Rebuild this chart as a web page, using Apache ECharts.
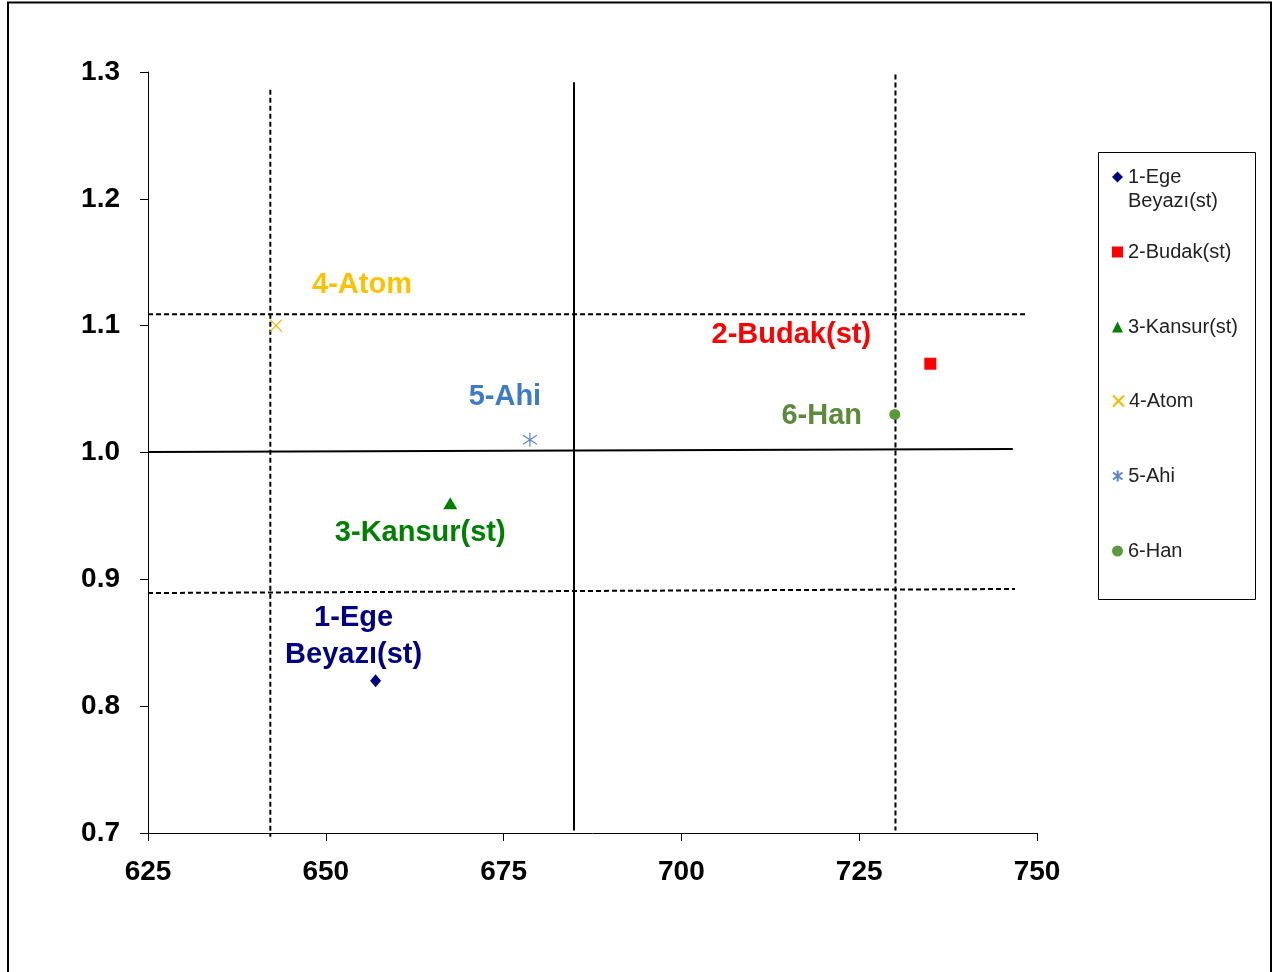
<!DOCTYPE html>
<html>
<head>
<meta charset="utf-8">
<script src="https://cdn.jsdelivr.net/npm/echarts@6/dist/echarts.min.js"></script>
<style>html,body{margin:0;padding:0;background:#fff;}#c{width:1280px;height:972px;}</style>
</head>
<body>
<div id="c"></div>
<script>
// ---- data ----
const seriesNames = ['1-Ege Beyazı(st)', '2-Budak(st)', '3-Kansur(st)', '4-Atom', '5-Ahi', '6-Han'];
const xValues = [657, 735, 667.5, 643, 678.7, 730];
const yValues = [0.82, 1.07, 0.96, 1.10, 1.01, 1.03];
const xTicks = [625, 650, 675, 700, 725, 750];
const yTicks = [0.7, 0.8, 0.9, 1.0, 1.1, 1.2, 1.3];
// reference lines: [x0, y0, x1, y1]
const refDashedV = [[642.2, 1.286, 642.2, 0.697], [730.1, 1.298, 730.1, 0.702]];
const refSolidV = [[684.9, 1.292, 684.9, 0.702]];
const refDashedH = [[625, 1.109, 748.6, 1.109], [625, 0.8892, 746.9, 0.8924]];
const refSolidH = [[625, 1.0004, 746.6, 1.0028]];

// ---- styles ----
const FONT = '"Liberation Sans", Arial, sans-serif';
const markerColors = ['#000080', '#ff0000', '#008000', '#f5b800', '#5b84cc', '#5a9a3a'];
const labelColors = ['#000080', '#ff0000', '#008000', '#ffc000', '#3d7cc4', '#5a8a3a'];
const symbols = [
  'diamond', 'rect', 'triangle',
  'path://M0,0L10,10M10,0L0,10',
  'path://M5,0L5,10M0.7,1.8L9.3,8.2M9.3,1.8L0.7,8.2',
  'circle'
];
const symbolSizes = [[11, 13], 12, [14, 12], 12, 14, 11];
const labelOffsets = [[-22, -44], [-139, -29], [-30, 30], [86, -41], [-25, -43], [-73, 2]];
const labelTexts = ['1-Ege\nBeyazı(st)', '2-Budak(st)', '3-Kansur(st)', '4-Atom', '5-Ahi', '6-Han'];
const legendMarkerY = [177, 252, 327, 401, 476, 551];

const scatterSeries = seriesNames.map((name, i) => {
  const isStroke = i === 3 || i === 4;
  return {
    name: name,
    type: 'scatter',
    data: [[xValues[i], yValues[i]]],
    symbol: symbols[i],
    symbolSize: symbolSizes[i],
    symbolKeepAspect: false,
    z: 5,
    itemStyle: isStroke
      ? { color: markerColors[i], borderColor: markerColors[i], borderWidth: 1.2, opacity: 1 }
      : { color: markerColors[i], borderWidth: 0, opacity: 1 },
    label: {
      show: true,
      position: 'inside',
      offset: labelOffsets[i],
      formatter: () => labelTexts[i],
      color: labelColors[i],
      opacity: 1,
      fontFamily: FONT,
      fontWeight: 'bold',
      fontSize: 29,
      lineHeight: 37,
      align: 'center',
      verticalAlign: 'middle'
    }
  };
});

function refSeries(list, dashed) {
  return list.map(l => ({
    type: 'line',
    data: [[l[0], l[1]], [l[2], l[3]]],
    showSymbol: false,
    symbol: 'none',
    clip: false,
    silent: true,
    z: 3,
    lineStyle: { color: '#000', width: 2, type: dashed ? [5, 3] : 'solid' }
  }));
}

const legends = seriesNames.map((name, i) => {
  const first = i === 0;
  return {
    data: [name],
    orient: 'vertical',
    left: 1112,
    top: first ? legendMarkerY[i] - 36 : legendMarkerY[i] - 10,
    padding: 0,
    itemWidth: 11,
    itemHeight: 11,
    itemGap: 0,
    selectedMode: false,
    formatter: first ? () => '\n1-Ege\nBeyazı(st)' : undefined,
    textStyle: first
      ? { fontFamily: FONT, fontSize: 20, color: '#222', lineHeight: 24 }
      : { fontFamily: FONT, fontSize: 20, color: '#222', lineHeight: 20 }
  };
});

const chart = echarts.init(document.getElementById('c'), null, { renderer: 'canvas' });
chart.setOption({
  backgroundColor: '#fff',
  animation: false,
  grid: { left: 148, right: 243, top: 72, bottom: 139, containLabel: false },
  xAxis: {
    type: 'value',
    min: xTicks[0], max: xTicks[xTicks.length - 1], interval: 25,
    axisLine: { show: true, onZero: false, lineStyle: { color: '#000', width: 1 } },
    axisTick: { show: true, inside: false, length: 8, lineStyle: { color: '#000' } },
    splitLine: { show: false },
    axisLabel: { margin: 25, fontFamily: FONT, fontWeight: 'bold', fontSize: 28, color: '#000' }
  },
  yAxis: {
    type: 'value',
    min: yTicks[0], max: yTicks[yTicks.length - 1], interval: 0.1,
    axisLine: { show: true, onZero: false, lineStyle: { color: '#000', width: 1 } },
    axisTick: { show: true, inside: false, length: 8, lineStyle: { color: '#000' } },
    splitLine: { show: false },
    axisLabel: { margin: 28, fontFamily: FONT, fontWeight: 'bold', fontSize: 28, color: '#000',
      formatter: v => v.toFixed(1) }
  },
  legend: legends,
  graphic: [
    { type: 'rect', shape: { x: 8, y: 2.5, width: 1263, height: 1000 }, style: { fill: 'none', stroke: '#000', lineWidth: 2 }, silent: true, z: 0 },
    { type: 'rect', shape: { x: 1098.5, y: 152.5, width: 157, height: 447 }, style: { fill: 'none', stroke: '#000', lineWidth: 1 }, silent: true, z: 0 }
  ],
  series: [].concat(
    refSeries(refDashedV, true),
    refSeries(refSolidV, false),
    refSeries(refDashedH, true),
    refSeries(refSolidH, false),
    scatterSeries
  )
});
</script>
</body>
</html>
